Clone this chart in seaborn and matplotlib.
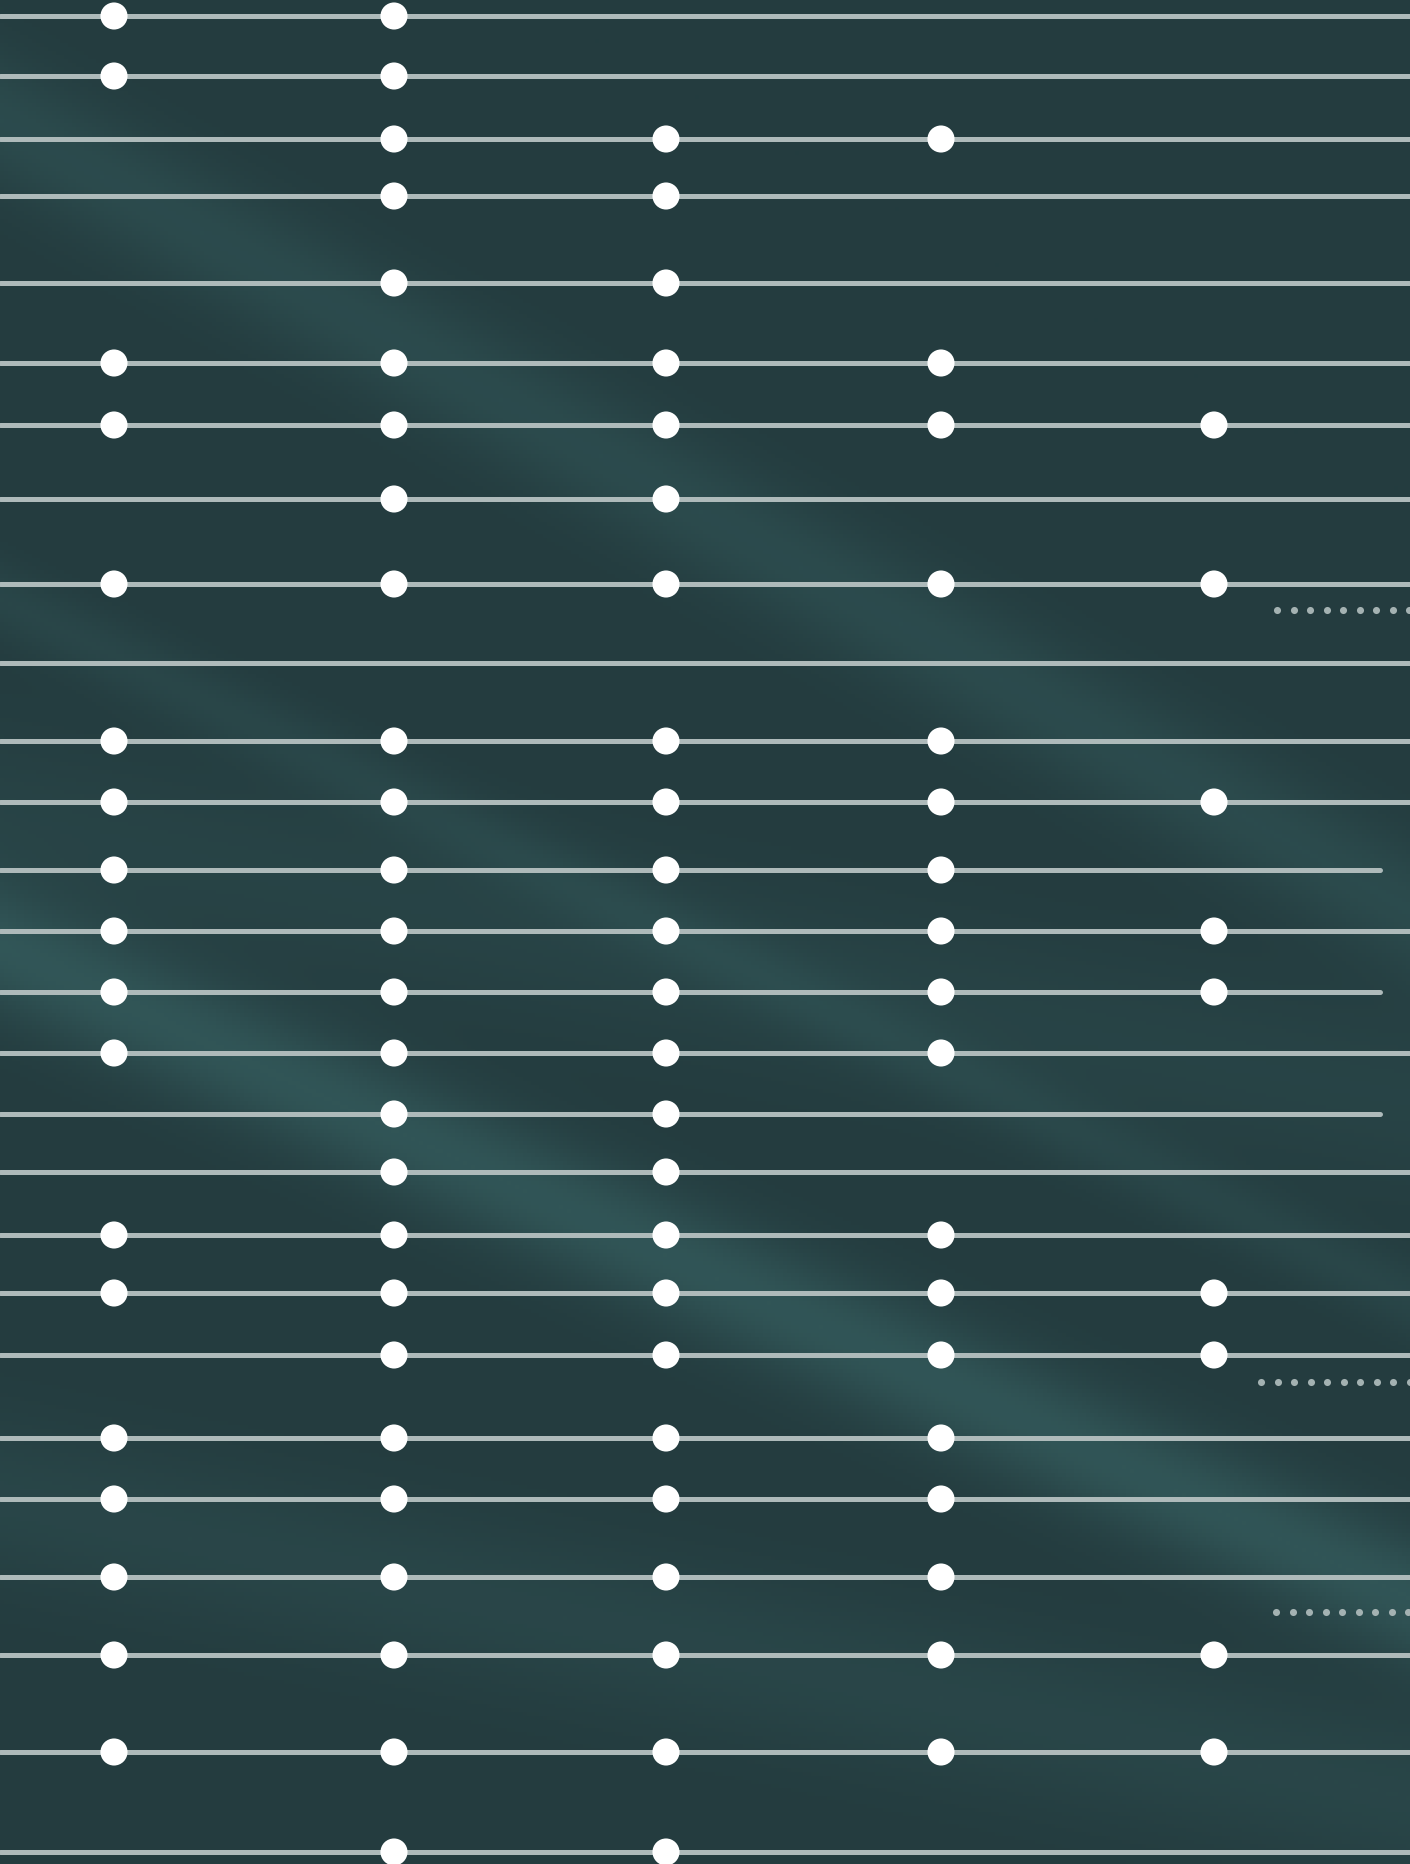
import numpy as np
import pandas as pd

import seaborn as sns
import matplotlib
matplotlib.use('Agg')
import matplotlib.pyplot as plt

# row positions (y, pixels from top) and the columns that carry a dot on each row
row_y = [17, 77, 140, 197, 284, 364, 426, 500, 585, 664, 742, 803, 871, 932, 993,
         1054, 1115, 1173, 1236, 1294, 1356, 1439, 1500, 1578, 1656, 1753, 1853]
row_dots = [[1, 2], [1, 2], [2, 3, 4], [2, 3], [2, 3], [1, 2, 3, 4], [1, 2, 3, 4, 5],
            [2, 3], [1, 2, 3, 4, 5], [], [1, 2, 3, 4], [1, 2, 3, 4, 5], [1, 2, 3, 4],
            [1, 2, 3, 4, 5], [1, 2, 3, 4, 5], [1, 2, 3, 4], [2, 3], [2, 3], [1, 2, 3, 4],
            [1, 2, 3, 4, 5], [2, 3, 4, 5], [1, 2, 3, 4], [1, 2, 3, 4], [1, 2, 3, 4],
            [1, 2, 3, 4, 5], [1, 2, 3, 4, 5], [2, 3]]
row_end = [1410] * 27
for i in [12, 14, 16]:
    row_end[i] = 1380
col_x = [114, 394, 666, 941, 1214]

# short dotted rules on the right
dotted_y = [611, 1383, 1613]
dotted_start = [1277, 1261, 1276]

W, H = 1410, 1865

fig = plt.figure(figsize=(14.1, 18.65), dpi=100)
ax = fig.add_axes([0, 0, 1, 1])

# background: dark teal with a few soft lighter streaks
yy, xx = np.mgrid[0:H:4, 0:W:4]
base = np.array([0x24, 0x3c, 0x3f]) / 255.
light = np.array([0x3e, 0x6e, 0x6e]) / 255.

def band(x0, y0, x1, y1, width, strength):
    d = np.abs((y1 - y0) * xx - (x1 - x0) * yy + x1 * y0 - y1 * x0) / np.hypot(x1 - x0, y1 - y0)
    return strength * np.exp(-(d / width) ** 2)

w = (band(0, 950, 1410, 1600, 60, 0.5) + band(0, 600, 1410, 1300, 35, 0.2)
     + band(0, 120, 500, 400, 60, 0.3) + band(900, 1000, 1410, 1100, 90, 0.15)
     + band(0, 1500, 1410, 1800, 80, 0.2))
w = np.clip(w, 0, 1)[..., None]
bg = base * (1 - w) + light * w
ax.imshow(bg, extent=[0, W, H, 0], aspect='auto', zorder=0)

line_col = '#aebaba'
for y, xe in zip(row_y, row_end):
    ax.plot([0, xe], [y, y], color=line_col, lw=3.6, solid_capstyle='round', zorder=1)

for y, xs in zip(dotted_y, dotted_start):
    pts = np.arange(xs, W + 10, 16.5)
    ax.scatter(pts, [y] * len(pts), s=26, color='#a4b2b2', linewidths=0, zorder=1)

dots = pd.DataFrame([(col_x[c - 1], y) for y, cs in zip(row_y, row_dots) for c in cs],
                    columns=['x', 'y'])
sns.scatterplot(data=dots, x='x', y='y', s=380, color='white', edgecolor='none',
                linewidth=0, ax=ax, zorder=3)

ax.set_xlim(0, W)
ax.set_ylim(H, 0)
ax.axis('off')

plt.savefig('out.png', dpi=100)
